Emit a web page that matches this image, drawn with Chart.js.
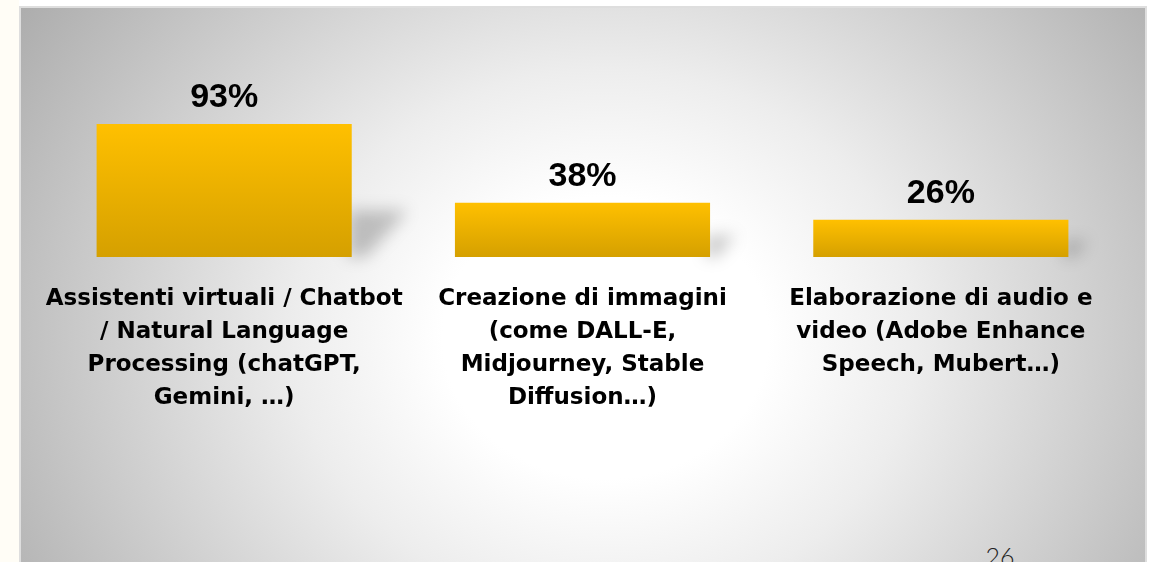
<!DOCTYPE html>
<html>
<head>
<meta charset="utf-8">
<script src="https://cdn.jsdelivr.net/npm/chart.js@4.4.1/dist/chart.umd.min.js"></script>
<style>
  html, body { margin: 0; padding: 0; width: 1150px; height: 562px; overflow: hidden; background: #fff; }
  .stripe { position: absolute; left: 0; top: 0; width: 19px; height: 562px; background: #fffdf6; }
  .slide {
    position: absolute; left: 19px; top: 6px; width: 1124px; height: 600px;
    border: 2px solid #dedede;
    background: radial-gradient(ellipse 740px 640px at 52% 55%, #ffffff 0%, #ffffff 22%, #ededed 42%, #a6a6a6 100%);
  }
  .page-num {
    position: absolute; left: 975px; top: 541px; width: 50px; text-align: center;
    font-family: Lato, sans-serif; font-weight: 300; font-size: 25px; color: #222;
  }
  #wrap { position: absolute; left: 0; top: 0; width: 1150px; height: 562px; }
</style>
</head>
<body>
<div class="stripe"></div>
<div class="slide"></div>
<div class="page-num">26</div>
<div id="wrap"><canvas id="chart"></canvas></div>
<script>
// chart data
const categories = [
    ['Assistenti virtuali / Chatbot', '/ Natural Language', 'Processing (chatGPT,', 'Gemini, …)'],
    ['Creazione di immagini', '(come DALL-E,', 'Midjourney, Stable', 'Diffusion…)'],
    ['Elaborazione di audio e', 'video (Adobe Enhance', 'Speech, Mubert…)']
];
const shareValues = [93, 38, 26];

// bar fill: vertical gold gradient per bar
function barFill(context) {
    const chart = context.chart;
    const { ctx, chartArea, scales } = chart;
    if (!chartArea || context.parsed === undefined) return '#f0b400';
    const top = scales.y.getPixelForValue(context.parsed.y);
    const bottom = scales.y.getPixelForValue(0);
    const g = ctx.createLinearGradient(0, top, 0, bottom);
    g.addColorStop(0, '#ffc000');
    g.addColorStop(1, '#d5a000');
    return g;
}

// soft perspective shadow behind each bar
const barShadow = {
    id: 'barShadow',
    beforeDatasetsDraw(chart) {
        const ctx = chart.ctx;
        const meta = chart.getDatasetMeta(0);
        ctx.save();
        ctx.filter = 'blur(8px)';
        ctx.fillStyle = 'rgba(0,0,0,0.22)';
        meta.data.forEach(bar => {
            const h = bar.base - bar.y;
            const sh = h * 0.32 + 4;
            const right = bar.x + bar.width / 2;
            ctx.beginPath();
            ctx.moveTo(right - 4, bar.base);
            ctx.lineTo(right - 4, bar.base - sh);
            ctx.lineTo(right + sh * 1.2, bar.base - sh);
            ctx.lineTo(right + sh * 0.3, bar.base);
            ctx.closePath();
            ctx.fill();
        });
        ctx.restore();
    }
};

// percentage labels above bars
const valueLabels = {
    id: 'valueLabels',
    afterDatasetsDraw(chart) {
        const ctx = chart.ctx;
        const meta = chart.getDatasetMeta(0);
        ctx.save();
        ctx.font = 'bold 34px "Liberation Sans", Arial, sans-serif';
        ctx.fillStyle = '#000';
        ctx.textAlign = 'center';
        ctx.textBaseline = 'alphabetic';
        meta.data.forEach((bar, i) => {
            ctx.fillText(shareValues[i] + '%', bar.x, bar.y - 17);
        });
        ctx.restore();
    }
};

new Chart(document.getElementById('chart'), {
    type: 'bar',
    data: {
        labels: categories,
        datasets: [{
            data: shareValues,
            backgroundColor: barFill,
            borderWidth: 0,
            categoryPercentage: 1,
            barPercentage: 0.712
        }]
    },
    options: {
        responsive: true,
        maintainAspectRatio: false,
        animation: false,
        layout: { padding: { left: 45, right: 30, top: 114, bottom: 0 } },
        plugins: {
            legend: { display: false },
            tooltip: { enabled: false }
        },
        scales: {
            y: { display: false, min: 0, max: 100 },
            x: {
                grid: { display: false, drawTicks: false },
                border: { display: false },
                afterFit: axis => { axis.height = 305; },
                ticks: {
                    autoSkip: false,
                    maxRotation: 0,
                    minRotation: 0,
                    padding: 26,
                    color: '#000',
                    font: { family: '"DejaVu Sans", sans-serif', weight: 'bold', size: 23, lineHeight: '33px' }
                }
            }
        }
    },
    plugins: [barShadow, valueLabels]
});
</script>
</body>
</html>
